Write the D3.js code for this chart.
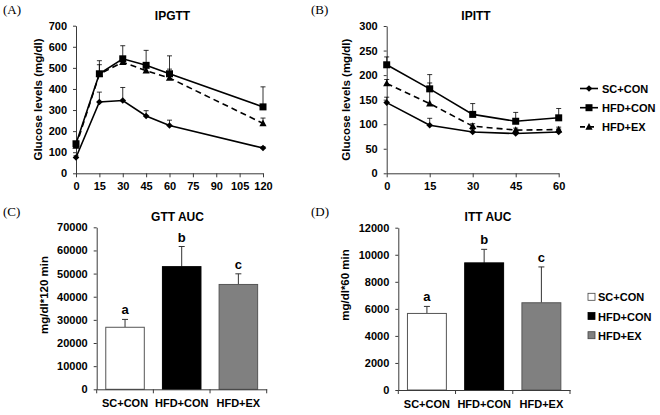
<!DOCTYPE html>
<html><head><meta charset="utf-8">
<script src="https://cdn.jsdelivr.net/npm/d3@7"></script>
<style>
body{margin:0;background:#fff;}
svg{display:block;}
text{font-family:"Liberation Sans",Arial,sans-serif;fill:#000;}
</style></head>
<body>
<svg id="c" width="660" height="415"></svg>
<script>
// ---------- DATA ----------
const gttTimes = [0, 15, 30, 45, 60, 120];
const gttTicks = [0, 15, 30, 45, 60, 75, 90, 105, 120];
const gttSC   = [75, 338, 345, 272, 227, 120];
const gttSCe  = [8, 47, 62, 25, 25, 6];
const gttHFD  = [140, 472, 543, 512, 472, 315];
const gttHFDe = [10, 62, 62, 71, 85, 95];
const gttEX   = [130, 470, 527, 487, 452, 237];
const gttEXe  = [8, 45, 15, 15, 42, 25];

const ittTimes = [0, 15, 30, 45, 60];
const ittSC   = [144, 98, 84, 81, 84];
const ittSCe  = [11, 14, 5, 3, 6];
const ittHFD  = [221, 172, 120, 106, 113];
const ittHFDe = [16, 29, 22, 18, 19];
const ittEX   = [183, 142, 96, 88, 89];
const ittEXe  = [8, 42, 5, 4, 5];

const groups = ["SC+CON", "HFD+CON", "HFD+EX"];
const gttAUC  = [26800, 53000, 45300];
const gttAUCe = [3400, 8700, 4600];
const ittAUC  = [5660, 9400, 6450];
const ittAUCe = [520, 1000, 2650];
const sigLetters = ["a", "b", "c"];
const barFills = ["#ffffff", "#000000", "#808080"];

// ---------- DRAW ----------
const svg = d3.select("#c");
const AX = "#3a3a3a";
const fmt = d3.format("d");

function styleAxis(g){
  g.selectAll(".domain").attr("stroke", AX).attr("stroke-width", 1);
  g.selectAll(".tick line").attr("stroke", AX);
  g.selectAll(".tick text").attr("font-size", 11).attr("font-weight", "bold").attr("fill", "#000");
}

function marker(g, type, x, y){
  if(type === "diamond"){
    g.append("path").attr("d", `M${x},${y-3.3}L${x+3.3},${y}L${x},${y+3.3}L${x-3.3},${y}Z`).attr("fill", "#000");
  } else if(type === "square"){
    g.append("rect").attr("x", x-3.5).attr("y", y-3.5).attr("width", 7).attr("height", 7).attr("fill", "#000");
  } else {
    g.append("path").attr("d", `M${x},${y-3.8}L${x+3.6},${y+2.8}L${x-3.6},${y+2.8}Z`).attr("fill", "#000");
  }
}

function linePanel(opt){
  const x = d3.scaleLinear().domain(opt.xdom).range(opt.xr);
  const y = d3.scaleLinear().domain(opt.ydom).range(opt.yr);
  const g = svg.append("g");
  const ya = g.append("g").attr("transform", `translate(${opt.xr[0]},0)`)
    .call(d3.axisLeft(y).tickValues(d3.range(opt.ydom[0], opt.ydom[1] + 1, opt.ystep)).tickFormat(fmt).tickSize(3).tickPadding(6).tickSizeOuter(0));
  styleAxis(ya);
  const xa = g.append("g").attr("transform", `translate(0,${opt.yr[0]})`)
    .call(d3.axisBottom(x).tickValues(opt.xticks).tickFormat(fmt).tickSize(4).tickPadding(5).tickSizeOuter(0));
  styleAxis(xa);
  const series = [
    {v: opt.sc, e: opt.sce, m: "diamond", dash: null},
    {v: opt.hfd, e: opt.hfde, m: "square", dash: null},
    {v: opt.ex, e: opt.exe, m: "triangle", dash: "6,4"}
  ];
  series.forEach(s => {
    opt.t.forEach((t, i) => {
      const cx = x(t), y0 = y(s.v[i]), y1 = y(s.v[i] + s.e[i]);
      g.append("line").attr("x1", cx).attr("x2", cx).attr("y1", y0).attr("y2", y1).attr("stroke", "#000").attr("stroke-width", 0.8);
      g.append("line").attr("x1", cx-2.5).attr("x2", cx+2.5).attr("y1", y1).attr("y2", y1).attr("stroke", "#000").attr("stroke-width", 0.8);
    });
  });
  series.forEach(s => {
    const line = d3.line().x((d, i) => x(opt.t[i])).y(d => y(d));
    g.append("path").datum(s.v).attr("d", line).attr("fill", "none").attr("stroke", "#000")
      .attr("stroke-width", 1.6).attr("stroke-dasharray", s.dash);
    s.v.forEach((v, i) => marker(g, s.m, x(opt.t[i]), y(v)));
  });
  g.append("text").attr("x", opt.tx).attr("y", 20).attr("text-anchor", "middle")
    .attr("font-size", 12).attr("font-weight", "bold").text(opt.title);
  g.append("text").attr("transform", `translate(${opt.ytx},${(opt.yr[0]+opt.yr[1])/2}) rotate(-90)`)
    .attr("text-anchor", "middle").attr("font-size", 11.5).attr("font-weight", "bold").attr("fill", "#111")
    .text("Glucose levels (mg/dl)");
}

linePanel({xdom:[0,120], xr:[76,263], ydom:[0,700], yr:[173.3,25.7], ystep:100, xticks:gttTicks,
  t:gttTimes, sc:gttSC, sce:gttSCe, hfd:gttHFD, hfde:gttHFDe, ex:gttEX, exe:gttEXe,
  title:"IPGTT", tx:172.5, ytx:42});
linePanel({xdom:[0,60], xr:[386.7,558.7], ydom:[0,300], yr:[173.3,26], ystep:50, xticks:ittTimes,
  t:ittTimes, sc:ittSC, sce:ittSCe, hfd:ittHFD, hfde:ittHFDe, ex:ittEX, exe:ittEXe,
  title:"IPITT", tx:476, ytx:350});

// line legend
const lg = svg.append("g");
const legM = ["diamond", "square", "triangle"];
groups.forEach((gname, i) => {
  const yy = 88.5 + i * 19.2;
  lg.append("line").attr("x1", 580).attr("x2", 598).attr("y1", yy).attr("y2", yy)
    .attr("stroke", "#000").attr("stroke-width", 1.6).attr("stroke-dasharray", i === 2 ? "5,4" : null);
  marker(lg, legM[i], 589, yy);
  lg.append("text").attr("x", 602).attr("y", yy + 4).attr("font-size", 11).attr("font-weight", "bold").text(gname);
});

function barPanel(opt){
  const x = d3.scaleBand().domain(groups).range(opt.xr).paddingInner(0.32).paddingOuter(0.16);
  const y = d3.scaleLinear().domain(opt.ydom).range(opt.yr);
  const g = svg.append("g");
  groups.forEach((gn, i) => {
    const v = opt.v[i], e = opt.e[i];
    const cx = x(gn) + x.bandwidth()/2;
    g.append("line").attr("x1", cx).attr("x2", cx).attr("y1", y(v)).attr("y2", y(v+e)).attr("stroke", "#333").attr("stroke-width", 1);
    g.append("line").attr("x1", cx-3).attr("x2", cx+3).attr("y1", y(v+e)).attr("y2", y(v+e)).attr("stroke", "#333").attr("stroke-width", 1);
    g.append("rect").attr("x", x(gn)).attr("y", y(v)).attr("width", x.bandwidth()).attr("height", y(0) - y(v))
      .attr("fill", barFills[i]).attr("stroke", i === 1 ? "#000" : "#555").attr("stroke-width", 1);
    g.append("text").attr("x", cx).attr("y", y(v+e) - 5).attr("text-anchor", "middle")
      .attr("font-size", 13).attr("font-weight", "bold").text(sigLetters[i]);
  });
  const ya = g.append("g").attr("transform", `translate(${opt.xr[0]},0)`)
    .call(d3.axisLeft(y).tickValues(d3.range(opt.ydom[0], opt.ydom[1] + 1, opt.ystep)).tickFormat(fmt).tickSize(3).tickPadding(6).tickSizeOuter(0));
  styleAxis(ya);
  const xa = g.append("g").attr("transform", `translate(0,${opt.yr[0]})`)
    .call(d3.axisBottom(x).tickSize(0).tickPadding(10).tickSizeOuter(0));
  styleAxis(xa);
  const step = x.step();
  d3.range(groups.length + 1).forEach(i => {
    const tx = opt.xr[0] + i * step;
    g.append("line").attr("x1", tx).attr("x2", tx).attr("y1", opt.yr[0]).attr("y2", opt.yr[0] + 4).attr("stroke", AX);
  });
  g.append("text").attr("x", opt.tx).attr("y", 221).attr("text-anchor", "middle")
    .attr("font-size", 12).attr("font-weight", "bold").text(opt.title);
  g.append("text").attr("transform", `translate(${opt.ytx},${opt.yc}) rotate(-90)`)
    .attr("text-anchor", "middle").attr("font-size", 11.5).attr("font-weight", "bold").attr("fill", "#111")
    .text(opt.ylabel);
}

barPanel({xr:[96.7,266.7], ydom:[0,70000], yr:[389.3,227.3], ystep:10000, v:gttAUC, e:gttAUCe,
  title:"GTT AUC", tx:177.5, ytx:48, yc:295, ylabel:"mg/dl*120 min"});
barPanel({xr:[398.3,570], ydom:[0,12000], yr:[390,227.7], ystep:2000, v:ittAUC, e:ittAUCe,
  title:"ITT AUC", tx:488, ytx:349, yc:285, ylabel:"mg/dl*60 min"});

// bar legend
const bl = svg.append("g");
groups.forEach((gname, i) => {
  const yy = 297.3 + i * 19.2;
  bl.append("rect").attr("x", 588).attr("y", yy - 4).attr("width", 7).attr("height", 7)
    .attr("fill", barFills[i]).attr("stroke", i === 1 ? "#000" : "#444").attr("stroke-width", 0.8);
  bl.append("text").attr("x", 598).attr("y", yy + 4).attr("font-size", 11).attr("font-weight", "bold").text(gname);
});

// panel letters
[["(A)",3,14],["(B)",311,14],["(C)",3,216],["(D)",311,216]].forEach(p => {
  svg.append("text").attr("x", p[1]).attr("y", p[2])
    .style("font-family", "'Liberation Serif','Times New Roman',serif").attr("font-size", 13).text(p[0]);
});
</script>
</body></html>
